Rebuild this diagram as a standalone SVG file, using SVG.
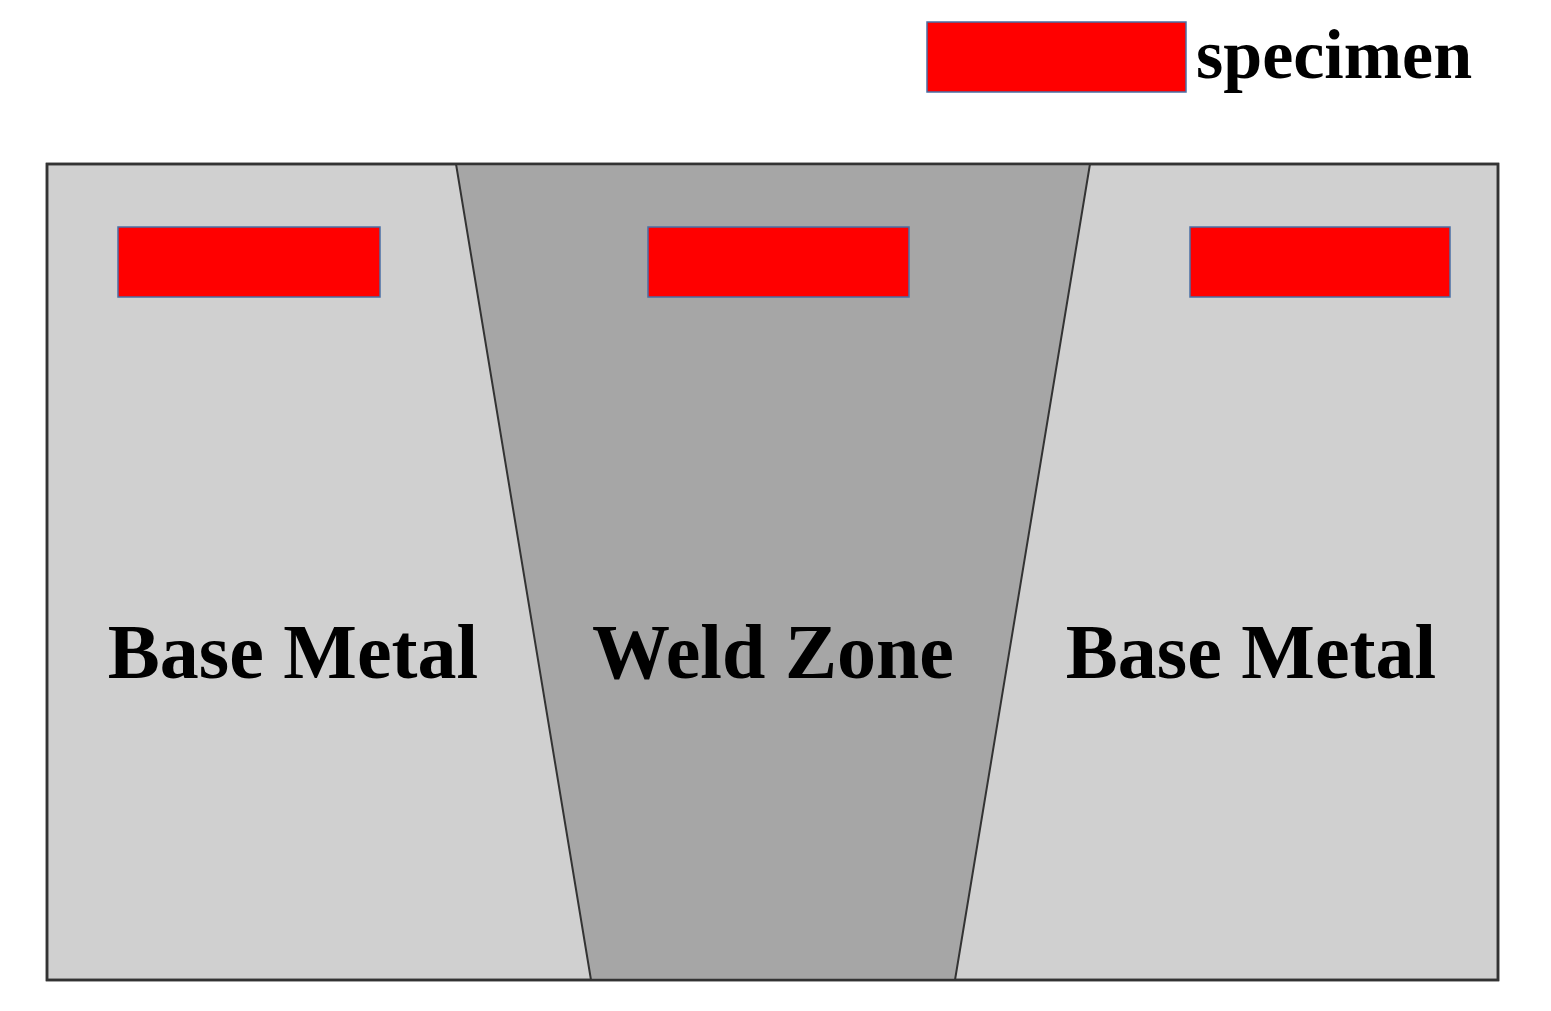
<svg xmlns="http://www.w3.org/2000/svg" width="1551" height="1011" viewBox="0 0 1551 1011">
<style>
.spec{fill:#ff0000;stroke:#4a6fa5;stroke-width:1.5}
.lbl{font-family:"Liberation Serif",serif;font-weight:bold;font-size:78px;fill:#000;text-anchor:middle}
</style>
<rect width="1551" height="1011" fill="#fff"/>
<g id="plate">
<rect x="47" y="164" width="1451" height="816" fill="#d0d0d0" stroke="#333" stroke-width="2.5"/>
<polygon points="456,164 1090,164 955,980 591,980" fill="#a6a6a6" stroke="#333" stroke-width="2"/>
<rect x="47" y="164" width="1451" height="816" fill="none" stroke="#333" stroke-width="2.5"/>
</g>
<g id="specimens">
<rect class="spec" x="118" y="227" width="262" height="70"/>
<rect class="spec" x="648" y="227" width="261" height="70"/>
<rect class="spec" x="1190" y="227" width="260" height="70"/>
</g>
<g id="labels">
<text class="lbl" x="293" y="678">Base Metal</text>
<text class="lbl" x="773" y="678">Weld Zone</text>
<text class="lbl" x="1251" y="678">Base Metal</text>
</g>
<g id="legend">
<rect class="spec" x="927" y="22" width="259" height="70"/>
<text x="1196" y="78" font-family="Liberation Serif,serif" font-weight="bold" font-size="70" fill="#000">specimen</text>
</g>
</svg>
